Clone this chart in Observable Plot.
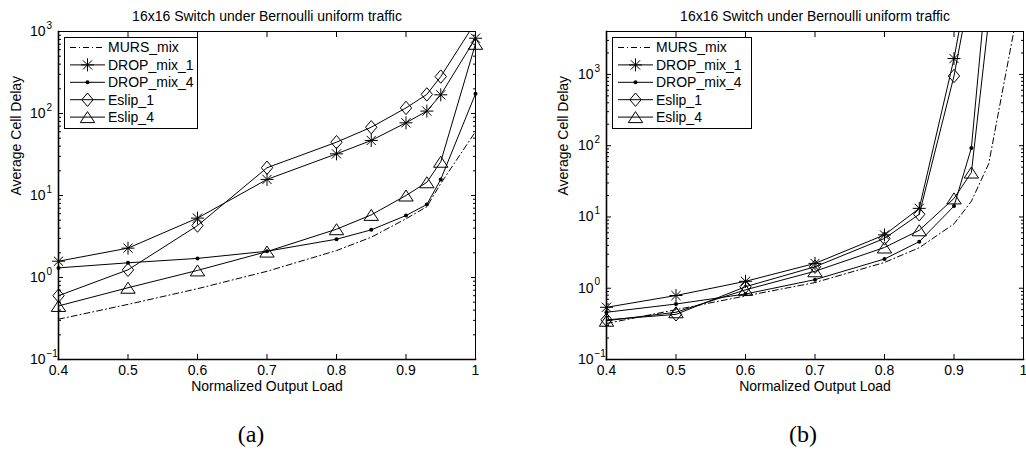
<!DOCTYPE html>
<html><head><meta charset="utf-8">
<script src="https://cdn.jsdelivr.net/npm/d3@7"></script>
<script src="https://cdn.jsdelivr.net/npm/@observablehq/plot@0.6"></script>
<style>
body{margin:0;background:#fff;}
#wrap{position:relative;width:1026px;height:450px;background:#fff;}
#wrap svg{position:absolute;top:0;}
</style></head><body><div id="wrap"></div>
<script>
// ---------- data ----------
const titleText = "16x16 Switch under Bernoulli uniform traffic";
const xLabel = "Normalized Output Load";
const yLabel = "Average Cell Delay";
const captions = ["(a)", "(b)"];
const seriesNames = ["MURS_mix", "DROP_mix_1", "DROP_mix_4", "Eslip_1", "Eslip_4"];
const ticksX = [0.4, 0.5, 0.6, 0.7, 0.8, 0.9, 1.0];
const decadesA = [0.1, 1, 10, 100, 1000];
const decadesB = [0.1, 1, 10, 100, 1000];
const yMaxA = 1000;
const yMaxB = 4000;

// panel (a)
const loadA   = [0.4, 0.5, 0.6, 0.7, 0.8, 0.85, 0.9, 0.93, 0.95, 1.0];
const mursA   = [0.31, 0.47, 0.73, 1.19, 2.13, 3.1, 5.2, 7.3, 14, 60];
const drop1A  = [1.58, 2.28, 5.3, 15.7, 32.2, 46.9, 77, 107, 169, 828];
const drop4A  = [1.31, 1.51, 1.71, 2.09, 2.93, 3.81, 5.7, 7.77, 15.7, 174];
const eslip1A = [0.6, 1.24, 4.3, 21.8, 44.7, 68, 117, 171, 282, 1300];
const eslip4A = [0.45, 0.75, 1.22, 2.07, 3.88, 5.8, 10, 14.5, 25.8, 708];

// panel (b)
const loadB   = [0.4, 0.5, 0.6, 0.7, 0.8, 0.85, 0.9, 0.925, 0.95, 1.0];
const mursB   = [0.32, 0.5, 0.78, 1.2, 2.3, 3.7, 8, 16.6, 56, 21000];
const drop1B  = [0.54, 0.79, 1.25, 2.23, 5.6, 13.2, 1670, 35000];
const drop4B  = [0.46, 0.6, 0.83, 1.32, 2.57, 4.5, 14.2, 93, 40000];
const eslip1B = [0.36, 0.43, 1.05, 2.0, 5.0, 10.9, 950, 18600];
const eslip4B = [0.35, 0.46, 0.95, 1.73, 3.73, 6.5, 18.2, 42, 5900];

// ---------- marker glyphs (MATLAB style) ----------
const asterisk = {draw(c){const r=6.5,d=4.6;c.moveTo(-r,0);c.lineTo(r,0);c.moveTo(0,-r);c.lineTo(0,r);c.moveTo(-d,-d);c.lineTo(d,d);c.moveTo(-d,d);c.lineTo(d,-d);}};
const diamond  = {draw(c){c.moveTo(0,-6.7);c.lineTo(5.7,0);c.lineTo(0,6.7);c.lineTo(-5.7,0);c.closePath();}};
const triangle = {draw(c){c.moveTo(0,-5.5);c.lineTo(7.2,5.5);c.lineTo(-7.2,5.5);c.closePath();}};
const point    = {draw(c){c.moveTo(2,0);c.arc(0,0,2,0,2*Math.PI);}};
const markerOf = {"DROP_mix_1": asterisk, "DROP_mix_4": point, "Eslip_1": diamond, "Eslip_4": triangle};
const DASH = "6,3,1,3";
const FONT = '"Liberation Sans", Arial, Helvetica, sans-serif';

const expText = d => { const e = Math.round(Math.log10(d)); return e < 0 ? "\u2212" + (-e) : String(e); };

function panel(o) {
  const rows = [];
  o.series.forEach((vals, si) => vals.forEach((v, i) => rows.push({load: o.loads[i], delay: v, name: seriesNames[si]})));
  const pick = n => rows.filter(r => r.name === n);
  const visible = n => pick(n).filter(r => r.delay <= o.yMax);
  const minors = [];
  for (let e = -1; e <= 3; e++) for (let m = 2; m <= 9; m++) { const v = m * Math.pow(10, e); if (v < o.yMax) minors.push(v); }
  const dotMarks = ["DROP_mix_1", "Eslip_1", "Eslip_4"].map(n =>
    Plot.dot(visible(n), {x: "load", y: "delay", symbol: markerOf[n], r: 5, stroke: "black", fill: "none", strokeWidth: 1}));
  dotMarks.push(Plot.dot(visible("DROP_mix_4"), {x: "load", y: "delay", symbol: point, r: 2, fill: "black", stroke: "none"}));
  return Plot.plot({
    width: o.width, height: 400,
    marginLeft: o.ml, marginRight: o.mr, marginTop: 31, marginBottom: 41,
    style: {fontFamily: FONT, fontSize: "14px", color: "black", background: "transparent", overflow: "visible"},
    x: {domain: [0.4, 1]},
    y: {type: "log", domain: [0.1, o.yMax]},
    marks: [
      Plot.axisX(ticksX, {anchor: "bottom", tickSize: -5, fill: "none"}),
      Plot.axisX(ticksX, {anchor: "top", tickSize: -5, fill: "none"}),
      Plot.axisY(o.decades, {anchor: "left", tickSize: -5, fill: "none"}),
      Plot.axisY(o.decades, {anchor: "right", tickSize: -5, fill: "none"}),
      Plot.axisY(minors, {anchor: "left", tickSize: -3, fill: "none"}),
      Plot.axisY(minors, {anchor: "right", tickSize: -3, fill: "none"}),
      Plot.axisX(ticksX, {anchor: "bottom", tickSize: 0, tickPadding: 6, label: null, fontSize: 14,
        tickFormat: d => String(+d.toFixed(1))}),
      Plot.text(o.decades, {y: d => d, text: () => "10", frameAnchor: "left", textAnchor: "end", dx: -13, fontSize: 14}),
      Plot.text(o.decades, {y: d => d, text: expText, frameAnchor: "left", textAnchor: "start", dx: -12, dy: -6, fontSize: 10}),
      Plot.text([titleText], {frameAnchor: "top", lineAnchor: "bottom", dy: -11, fontSize: 14}),
      Plot.text([xLabel], {frameAnchor: "bottom", lineAnchor: "bottom", dy: 31, fontSize: 14}),
      Plot.text([yLabel], {frameAnchor: "left", lineAnchor: "bottom", rotate: -90, dx: o.ylabDx, fontSize: 14}),
      Plot.line(pick("MURS_mix"), {x: "load", y: "delay", stroke: "black", strokeWidth: 1, strokeDasharray: DASH, clip: true}),
      Plot.line(rows.filter(r => r.name !== "MURS_mix"), {x: "load", y: "delay", z: "name", stroke: "black", strokeWidth: 1, clip: true}),
      ...dotMarks,
      Plot.frame({stroke: "black", strokeWidth: 1}),
      Plot.frame({anchor: "left", stroke: "black", strokeWidth: 1.6}),
      Plot.frame({anchor: "bottom", stroke: "black", strokeWidth: 1.6})
    ]
  });
}

const wrap = document.getElementById("wrap");
const svgA = panel({width: 513, ml: 58, mr: 38, yMax: yMaxA, decades: decadesA, loads: loadA, ylabDx: -38,
  series: [mursA, drop1A, drop4A, eslip1A, eslip4A]});
svgA.style.left = "0px";
wrap.appendChild(svgA);
const svgB = panel({width: 513, ml: 93, mr: 3, yMax: yMaxB, decades: decadesB, loads: loadB, ylabDx: -39,
  series: [mursB, drop1B, drop4B, eslip1B, eslip4B]});
svgB.style.left = "513px";
wrap.appendChild(svgB);

// ---------- legends and captions (overlay) ----------
const ov = d3.create("svg").attr("width", 1026).attr("height", 450)
  .style("left", "0px").style("top", "0px").style("pointer-events", "none");
const markerMap = {"MURS_mix": null, ...markerOf};
function legend(x0, w) {
  const g = ov.append("g");
  g.append("rect").attr("x", x0 + 0.5).attr("y", 37.5).attr("width", w).attr("height", 91)
    .attr("fill", "white").attr("stroke", "black").attr("stroke-width", 1);
  seriesNames.forEach((n, i) => {
    const y = 47.5 + i * 17.4;
    g.append("line").attr("x1", x0 + 6).attr("x2", x0 + 41).attr("y1", y).attr("y2", y)
      .attr("stroke", "black").attr("stroke-width", 1).attr("stroke-dasharray", n === "MURS_mix" ? DASH : null);
    const sym = markerMap[n];
    if (sym) g.append("path").attr("d", d3.symbol(sym)()).attr("transform", `translate(${x0 + 23.5},${y})`)
      .attr("fill", sym === point ? "black" : "none").attr("stroke", sym === point ? "none" : "black").attr("stroke-width", 1);
    g.append("text").attr("x", x0 + 44).attr("y", y).attr("dy", "0.35em")
      .attr("font-family", FONT).attr("font-size", 14).attr("fill", "black").text(n);
  });
}
legend(64, 133);
legend(612, 139);
ov.selectAll("text.cap").data(captions).join("text").attr("class", "cap")
  .attr("x", (d, i) => i === 0 ? 251 : 803).attr("y", 442).attr("text-anchor", "middle")
  .attr("font-family", '"Liberation Serif", "DejaVu Serif", serif').attr("font-size", 24).attr("fill", "black")
  .text(d => d);
wrap.appendChild(ov.node());
</script></body></html>
